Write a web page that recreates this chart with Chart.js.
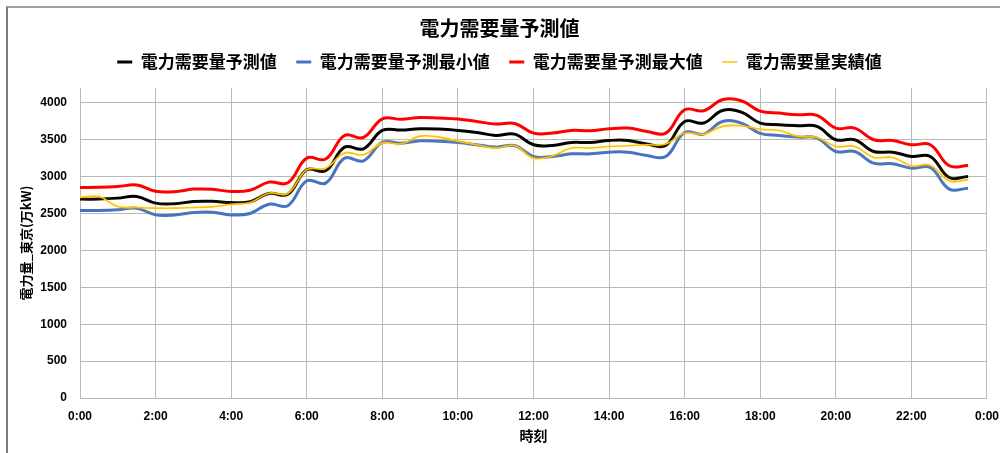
<!DOCTYPE html>
<html lang="ja">
<head>
<meta charset="utf-8">
<title>電力需要量予測値</title>
<script src="https://cdn.jsdelivr.net/npm/chart.js@4/dist/chart.umd.min.js"></script>
<style>
  html, body { margin: 0; padding: 0; background: #fff; overflow: hidden; }
  #wrap { position: relative; width: 1000px; height: 453px; overflow: hidden; }
  #frame { position: absolute; left: 6px; top: 6px; width: 1200px; height: 800px;
           border-left: 2px solid #7a7a7a; border-top: 2px solid #a0a0a0; pointer-events: none; }
  canvas { position: absolute; left: 0; top: 0; }
</style>
</head>
<body>
<div id="wrap">
  <div id="frame"></div>
  <canvas id="chart" width="1010" height="453"></canvas>
</div>
<script>
// 30-minute time slots
const times = [
  '0:00','0:30','1:00','1:30','2:00','2:30','3:00','3:30',
  '4:00','4:30','5:00','5:30','6:00','6:30','7:00','7:30',
  '8:00','8:30','9:00','9:30','10:00','10:30','11:00','11:30',
  '12:00','12:30','13:00','13:30','14:00','14:30','15:00','15:30',
  '16:00','16:30','17:00','17:30','18:00','18:30','19:00','19:30',
  '20:00','20:30','21:00','21:30','22:00','22:30','23:00','23:30'
];

// 電力需要量 (万kW)
const forecast = [
  2695, 2695, 2708, 2730, 2640, 2632, 2662, 2665,
  2648, 2660, 2770, 2760, 3092, 3078, 3399, 3376,
  3625, 3630, 3648, 3643, 3625, 3598, 3557, 3575,
  3431, 3422, 3462, 3462, 3489, 3489, 3440, 3422,
  3747, 3725, 3896, 3873, 3725, 3702, 3689, 3680,
  3499, 3499, 3340, 3331, 3272, 3272, 2987, 3000
];
const forecastMin = [
  2540, 2540, 2550, 2572, 2481, 2481, 2513, 2516,
  2481, 2500, 2626, 2606, 2943, 2911, 3250, 3214,
  3462, 3453, 3485, 3480, 3462, 3431, 3399, 3420,
  3272, 3272, 3308, 3308, 3331, 3331, 3285, 3272,
  3598, 3575, 3747, 3725, 3585, 3557, 3535, 3521,
  3340, 3340, 3182, 3174, 3114, 3123, 2830, 2843
];
const forecastMax = [
  2852, 2855, 2865, 2885, 2800, 2795, 2830, 2828,
  2798, 2815, 2925, 2915, 3250, 3237, 3557, 3530,
  3783, 3776, 3801, 3794, 3780, 3747, 3711, 3720,
  3589, 3589, 3625, 3620, 3648, 3657, 3612, 3589,
  3905, 3891, 4041, 4028, 3887, 3860, 3837, 3830,
  3657, 3657, 3499, 3490, 3431, 3431, 3146, 3150
];
const actual = [
  2716, 2730, 2594, 2580, 2572, 2572, 2580, 2590,
  2626, 2650, 2775, 2770, 3092, 3114, 3318, 3296,
  3453, 3444, 3548, 3535, 3480, 3431, 3386, 3420,
  3250, 3280, 3386, 3386, 3408, 3417, 3431, 3440,
  3589, 3575, 3680, 3689, 3640, 3625, 3545, 3530,
  3408, 3408, 3259, 3259, 3146, 3155, 2943, 2955
];

// axis ticks
const yTicks = [0, 500, 1000, 1500, 2000, 2500, 3000, 3500, 4000];
const xTicks = [0, 2, 4, 6, 8, 10, 12, 14, 16, 18, 20, 22, 24];

const toHours = t => { const [h, m] = t.split(':').map(Number); return h + m / 60; };
const points = arr => arr.map((v, i) => ({ x: toHours(times[i]), y: v }));

const jp = '"Noto Sans CJK JP", "Noto Sans", sans-serif';
const num = '"Liberation Sans", Arial, sans-serif';
const gridColor = '#b9b9b9';

// soft glow for the actual-demand line
const glowPlugin = {
  id: 'glow',
  beforeDatasetDraw(chart, args) {
    const ds = chart.data.datasets[args.index];
    if (ds.glow) {
      chart.ctx.save();
      chart.ctx.shadowColor = ds.glow;
      chart.ctx.shadowBlur = 6;
    }
  },
  afterDatasetDraw(chart, args) {
    if (chart.data.datasets[args.index].glow) chart.ctx.restore();
  }
};

const lineDs = (label, data, color, width, order) => ({
  label, data: points(data), borderColor: color, backgroundColor: color,
  borderWidth: width, pointRadius: 0, pointHoverRadius: 0,
  tension: 0.4, fill: false, order
});

const datasets = [
  lineDs('電力需要量予測値', forecast, '#000000', 3, 1),
  lineDs('電力需要量予測最小値', forecastMin, '#4472C4', 3, 3),
  lineDs('電力需要量予測最大値', forecastMax, '#FF0000', 3, 2),
  Object.assign(lineDs('電力需要量実績値', actual, '#FFC000', 1.6, 0), { glow: 'rgba(255,214,60,0.55)' })
];

new Chart(document.getElementById('chart'), {
  type: 'line',
  data: { datasets },
  plugins: [glowPlugin],
  options: {
    responsive: false,
    animation: false,
    devicePixelRatio: 1,
    layout: { padding: { left: 8, right: 19, top: 0, bottom: 0 } },
    plugins: {
      tooltip: { enabled: false },
      title: {
        display: true,
        text: '電力需要量予測値',
        color: '#000',
        font: { family: jp, size: 20, weight: 'bold', lineHeight: 0.6 },
        padding: { top: 22, bottom: 0 }
      },
      legend: {
        display: true,
        position: 'top',
        labels: {
          color: '#000',
          font: { family: jp, size: 17, weight: 'bold' },
          usePointStyle: true,
          pointStyle: 'line',
          pointStyleWidth: 15,
          padding: 19.5,
          sort: (a, b) => a.datasetIndex - b.datasetIndex
        }
      }
    },
    scales: {
      x: {
        type: 'linear',
        min: 0, max: 24,
        afterBuildTicks: s => { s.ticks = xTicks.map(v => ({ value: v })); },
        afterFit: s => { s.height = 55; },
        grid: { color: gridColor, lineWidth: 1, drawTicks: false },
        border: { color: gridColor },
        ticks: {
          padding: 11,
          color: '#000',
          font: { family: num, size: 12, weight: 'bold' },
          maxRotation: 0,
          callback: v => (v % 24) + ':00'
        },
        title: {
          display: true,
          text: '時刻',
          color: '#000',
          font: { family: jp, size: 14, weight: 'bold' },
          padding: { top: 0, bottom: 8.6 }
        }
      },
      topGap: {
        type: 'linear',
        position: 'top',
        min: 0, max: 24,
        grid: { display: false },
        border: { display: false },
        ticks: { display: false },
        afterFit: s => { s.height = 7.5; }
      },
      y: {
        type: 'linear',
        min: 0, max: 4200,
        afterBuildTicks: s => { s.ticks = yTicks.map(v => ({ value: v })); },
        afterFit: s => { s.width = 72; },
        grid: { color: gridColor, lineWidth: 1, drawTicks: false },
        border: { color: gridColor },
        ticks: {
          padding: 13,
          color: '#000',
          font: { family: num, size: 12, weight: 'bold' },
          callback: v => String(v)
        },
        title: {
          display: true,
          text: '電力量_東京(万kW)',
          color: '#000',
          font: { family: jp, size: 13, weight: 'bold' },
          padding: { top: 10, bottom: 0 }
        }
      }
    }
  }
});
</script>
</body>
</html>
